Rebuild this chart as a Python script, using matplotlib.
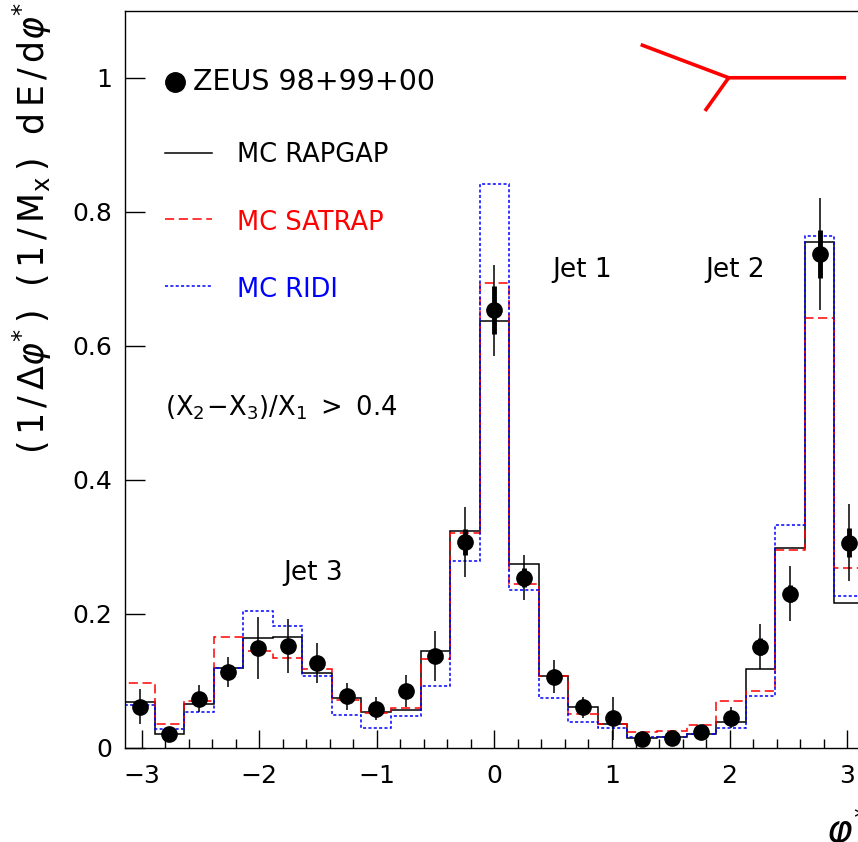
import numpy as np
import matplotlib
matplotlib.use("Agg")
import matplotlib.pyplot as plt

plt.rcParams['font.family'] = ['DejaVu Sans']
plt.rcParams['mathtext.fontset'] = 'dejavusans'

# 25 bins in phi* from -pi to pi
n_bins = 25
edges = np.linspace(-np.pi, np.pi, n_bins + 1)
centers = 0.5 * (edges[:-1] + edges[1:])

zeus = [0.061, 0.020, 0.073, 0.113, 0.149, 0.152, 0.126, 0.077, 0.058, 0.084,
        0.137, 0.307, 0.653, 0.254, 0.106, 0.060, 0.044, 0.013, 0.015, 0.023,
        0.045, 0.151, 0.230, 0.737, 0.306]
zeus_tot = [0.026, 0.010, 0.020, 0.022, 0.046, 0.040, 0.030, 0.020, 0.017, 0.024,
            0.037, 0.052, 0.068, 0.034, 0.025, 0.015, 0.032, 0.008, 0.008, 0.010,
            0.016, 0.034, 0.041, 0.083, 0.057]
zeus_stat = [0.008, 0.004, 0.007, 0.008, 0.010, 0.010, 0.008, 0.007, 0.006, 0.008,
             0.010, 0.020, 0.036, 0.014, 0.008, 0.006, 0.006, 0.004, 0.004, 0.005,
             0.007, 0.012, 0.013, 0.036, 0.022]

rapgap = [0.068, 0.020, 0.065, 0.119, 0.163, 0.165, 0.111, 0.074, 0.054, 0.057,
          0.145, 0.324, 0.637, 0.274, 0.107, 0.060, 0.036, 0.014, 0.016, 0.021,
          0.038, 0.117, 0.298, 0.755, 0.216]
satrap = [0.096, 0.036, 0.069, 0.165, 0.144, 0.134, 0.117, 0.071, 0.052, 0.059,
          0.132, 0.321, 0.693, 0.244, 0.107, 0.050, 0.036, 0.024, 0.025, 0.034,
          0.069, 0.085, 0.295, 0.642, 0.268]
ridi = [0.063, 0.028, 0.053, 0.119, 0.204, 0.181, 0.107, 0.049, 0.029, 0.047,
        0.092, 0.279, 0.842, 0.235, 0.074, 0.039, 0.030, 0.016, 0.016, 0.021,
        0.030, 0.077, 0.333, 0.764, 0.226]

fig = plt.figure(figsize=(8.58, 8.42), dpi=100)
ax = fig.add_axes([0.1457, 0.112, 0.8611, 0.8753])

ax.stairs(rapgap, edges, color='black', lw=1.1)
ax.stairs(satrap, edges, color='red', lw=1.1, linestyle=(0, (6, 3)))
ax.stairs(ridi, edges, color='blue', lw=1.1, linestyle=(0, (2, 1.5)))

ax.errorbar(centers, zeus, yerr=zeus_tot, fmt='o', color='black', ms=11,
            elinewidth=1.1, capsize=0, zorder=5)
ax.errorbar(centers, zeus, yerr=zeus_stat, fmt='none', ecolor='black',
            elinewidth=3.5, capsize=0, zorder=5)

ax.set_xlim(-np.pi, np.pi)
ax.set_ylim(0, 1.1)
ax.set_xticks([-3, -2, -1, 0, 1, 2, 3])
ax.set_xticklabels(['\u22123', '\u22122', '\u22121', '0', '1', '2', '3'])
ax.set_xticks(np.arange(-3.0, 3.01, 0.2), minor=True)
ax.set_yticks([0, 0.2, 0.4, 0.6, 0.8, 1.0])
ax.set_yticklabels(['0', '0.2', '0.4', '0.6', '0.8', '1'])
ax.tick_params(axis='x', which='major', direction='in', length=13, width=1,
               labelsize=18, pad=12, top=False)
ax.tick_params(axis='x', which='minor', direction='in', length=6.5, width=1, top=False)
ax.tick_params(axis='y', which='major', direction='in', length=14.5, width=1,
               labelsize=18, pad=9, right=False)
for s in ax.spines.values():
    s.set_linewidth(1.0)

# legend drawn by hand, ROOT style
tr = ax.transAxes
ax.plot([0.0677], [0.903], 'o', color='black', ms=14, transform=tr, clip_on=False)
ax.text(0.092, 0.903, 'ZEUS 98+99+00', transform=tr, fontsize=20.5, va='center')
ax.plot([0.054, 0.118], [0.807, 0.807], color='black', lw=1.1, transform=tr)
ax.text(0.1516, 0.804, 'MC RAPGAP', transform=tr, fontsize=18.5, va='center')
ax.plot([0.054, 0.118], [0.718, 0.718], color='red', lw=1.1,
        linestyle=(0, (6, 3)), transform=tr)
ax.text(0.1516, 0.712, 'MC SATRAP', transform=tr, fontsize=18.5, va='center', color='red')
ax.plot([0.054, 0.118], [0.626, 0.626], color='blue', lw=1.1,
        linestyle=(0, (2, 1.5)), transform=tr)
ax.text(0.1516, 0.621, 'MC RIDI', transform=tr, fontsize=18.5, va='center', color='blue')

ax.text(0.054, 0.461, r'$(\mathrm{X}_{2}\!-\!\mathrm{X}_{3})/\mathrm{X}_{1}\ >\ 0.4$',
        transform=tr, fontsize=18.5, va='center')

ax.text(0.579, 0.648, 'Jet 1', transform=tr, fontsize=19, va='center')
ax.text(0.785, 0.648, 'Jet 2', transform=tr, fontsize=19, va='center')
ax.text(0.214, 0.237, 'Jet 3', transform=tr, fontsize=19, va='center')

# three-jet topology sketch
topo_x = [0.698, 0.817, 0.976]
topo_y = [0.954, 0.909, 0.909]
ax.plot(topo_x, topo_y, color='red', lw=2.6, transform=tr, solid_capstyle='butt')
ax.plot([0.817, 0.785], [0.909, 0.864], color='red', lw=2.6, transform=tr,
        solid_capstyle='butt')

ylab = (r'$(\,1\,/\,\Delta\varphi^{*}\,)\ \ (\,1\,/\,\mathrm{M}_{\mathrm{x}}\,)'
        r'\ \ \mathrm{d\,E\,/\,d}\varphi^{*}$')
fig.text(0.038, 0.998, ylab, rotation=90, ha='center', va='top', fontsize=25)
fig.text(0.963, -0.012, r'$\varphi^{*}$', ha='left', va='bottom', fontsize=28)

fig.savefig('out.png', dpi=100)
